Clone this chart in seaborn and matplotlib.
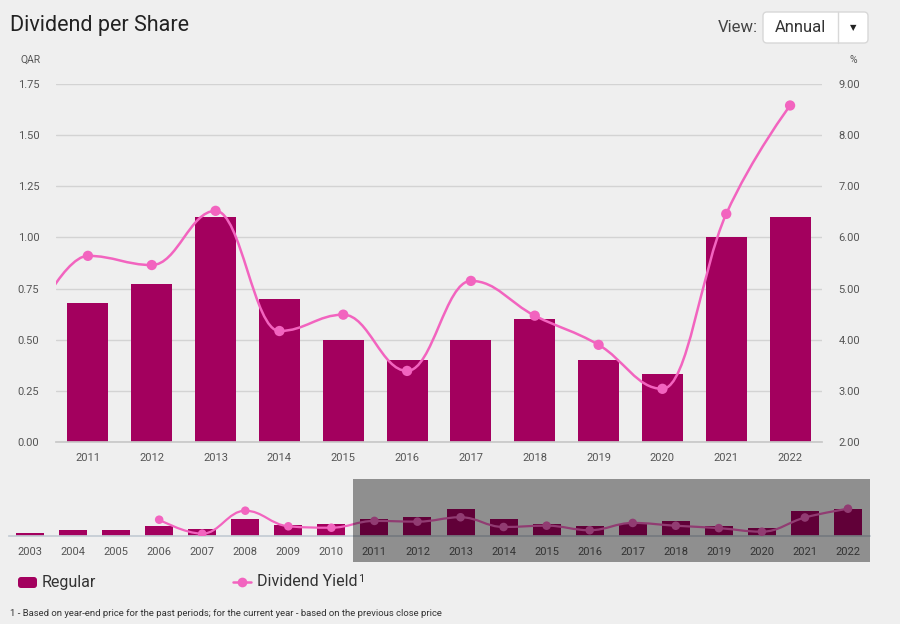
import numpy as np
import pandas as pd
import matplotlib
matplotlib.use("Agg")
import matplotlib.pyplot as plt
import seaborn as sns
from matplotlib.path import Path
from matplotlib.patches import PathPatch, Rectangle, FancyBboxPatch
from matplotlib.lines import Line2D
from matplotlib.transforms import IdentityTransform

# ---------------- data ----------------
years = [2003, 2004, 2005, 2006, 2007, 2008, 2009, 2010, 2011, 2012,
         2013, 2014, 2015, 2016, 2017, 2018, 2019, 2020, 2021, 2022]
dividend = [0.12, 0.25, 0.25, 0.40, 0.30, 0.70, 0.45, 0.50, 0.68, 0.77,
            1.10, 0.70, 0.50, 0.40, 0.50, 0.60, 0.40, 0.33, 1.00, 1.10]
yield_pct = [np.nan, np.nan, np.nan, 5.93, 2.56, 8.10, 4.34, 4.00, 5.64, 5.46,
             6.52, 4.17, 4.49, 3.39, 5.15, 4.47, 3.90, 3.04, 6.46, 8.58]
main_start = 2011
left_ticks = [0.00, 0.25, 0.50, 0.75, 1.00, 1.25, 1.50, 1.75]
right_ticks = [2.00, 3.00, 4.00, 5.00, 6.00, 7.00, 8.00, 9.00]

BG = "#efefef"
BAR = "#a3005e"
PINK = "#f264bf"
GRID = "#d3d3d3"
TXT = "#555555"

sns.set_theme(style="white")
plt.rcParams["font.family"] = ["Roboto", "DejaVu Sans"]

df = pd.DataFrame({"year": [str(y) for y in years], "dividend": dividend, "yield": yield_pct})
df["pos"] = np.arange(len(df))


def spline_path(xs, ys, smoothing=1.5):
    pts = [(float(x), float(y)) for x, y in zip(xs, ys) if not np.isnan(y)]
    n = len(pts)
    left = [None] * n
    right = [None] * n
    for i in range(n):
        px, py = pts[i]
        if 0 < i < n - 1:
            lx, ly = pts[i - 1]
            nx, ny = pts[i + 1]
            d = smoothing + 1
            lcx, lcy = (smoothing * px + lx) / d, (smoothing * py + ly) / d
            rcx, rcy = (smoothing * px + nx) / d, (smoothing * py + ny) / d
            if rcx != lcx:
                corr = (rcy - lcy) * (rcx - px) / (rcx - lcx) + py - rcy
                lcy += corr
                rcy += corr
            if lcy > ly and lcy > py:
                lcy = max(ly, py); rcy = 2 * py - lcy
            elif lcy < ly and lcy < py:
                lcy = min(ly, py); rcy = 2 * py - lcy
            if rcy > ny and rcy > py:
                rcy = max(ny, py); lcy = 2 * py - rcy
            elif rcy < ny and rcy < py:
                rcy = min(ny, py); lcy = 2 * py - rcy
            left[i] = (lcx, lcy)
            right[i] = (rcx, rcy)
        else:
            left[i] = right[i] = (px, py)
    verts = [pts[0]]
    codes = [Path.MOVETO]
    for i in range(1, n):
        verts += [right[i - 1], left[i], pts[i]]
        codes += [Path.CURVE4] * 3
    return Path(verts, codes)


W, H = 900, 624
fig = plt.figure(figsize=(9, 6.24), dpi=100, facecolor=BG)


def fx(px):
    return px / W


def fy(py):
    return 1 - py / H


# ---------------- main chart ----------------
main = df[df["year"].astype(int) >= main_start].copy()
main["mpos"] = np.arange(len(main))
ax = fig.add_axes([fx(56), fy(442), fx(822) - fx(56), fy(84) - fy(442)])
ax.set_facecolor("none")
sns.barplot(data=main, x="year", y="dividend", color=BAR, saturation=1,
            width=0.64, ax=ax, zorder=2, linewidth=0, edgecolor="none")
ax.set_xlim(-0.5, len(main) - 0.5)
ax.set_ylim(0, 1.75)
ax.set_yticks(left_ticks)
ax.set_yticklabels([f"{v:.2f}" for v in left_ticks])
ax.grid(axis="y", color=GRID, linewidth=1, zorder=0)
ax.set_axisbelow(True)
for s in ["top", "left", "right"]:
    ax.spines[s].set_visible(False)
ax.spines["bottom"].set_color("#c8c8c8")
ax.set_xlabel("")
ax.set_ylabel("")
ax.tick_params(axis="y", length=0, pad=12, labelsize=8, labelcolor=TXT)
ax.tick_params(axis="x", which="major", length=0, pad=8, labelsize=8, labelcolor=TXT)
ax.set_xticks(np.arange(-0.5, len(main), 1.0), minor=True)
ax.tick_params(axis="x", which="minor", length=6, color="#c8c8c8", width=1)

ax2 = ax.twinx()
ax2.set_ylim(2, 9)
ax2.set_yticks(right_ticks)
ax2.set_yticklabels([f"{v:.2f}" for v in right_ticks])
ax2.tick_params(axis="y", length=0, pad=12, labelsize=8, labelcolor=TXT)
for s in ax2.spines.values():
    s.set_visible(False)
# line includes the previous year (off the left edge, clipped)
prev = df[df["year"].astype(int) >= main_start - 1]
line_x = np.arange(len(prev)) - 1
ax2.add_patch(PathPatch(spline_path(line_x, prev["yield"].values), facecolor="none",
                        edgecolor=PINK, linewidth=1.8, zorder=3))
sns.scatterplot(x=main["mpos"].values, y=main["yield"].values, ax=ax2, color=PINK,
                s=55, edgecolor="none", zorder=4, legend=False)
ax2.set_xlim(-0.5, len(main) - 0.5)

fig.text(fx(31), fy(60), "QAR", ha="center", va="center", fontsize=7.5, color=TXT)
fig.text(fx(853), fy(60), "%", ha="center", va="center", fontsize=7.5, color=TXT)

# ---------------- navigator ----------------
nav = fig.add_axes([fx(8.5), fy(536), fx(869.5) - fx(8.5), fy(479) - fy(536)])
nav.set_facecolor("none")
sns.barplot(data=df, x="year", y="dividend", color=BAR, saturation=1,
            width=0.65, ax=nav, zorder=2, linewidth=0, edgecolor="none")
nav.set_xlim(-0.5, len(df) - 0.5)
nav.set_ylim(0, 2.28)
nav.set_yticks([])
nav.set_xlabel("")
nav.set_ylabel("")
for s in ["top", "left", "right"]:
    nav.spines[s].set_visible(False)
nav.spines["bottom"].set_color("#c4ccd4")
nav.tick_params(axis="x", length=0, pad=8, labelsize=8, labelcolor=TXT)
nav2 = nav.twinx()
nav2.set_ylim(2.0, 15.74)
nav2.set_yticks([])
for s in nav2.spines.values():
    s.set_visible(False)
nav2.add_patch(PathPatch(spline_path(df["pos"].values, df["yield"].values), facecolor="none",
                         edgecolor=PINK, linewidth=1.6, zorder=3))
sns.scatterplot(x=df["pos"].values, y=df["yield"].values, ax=nav2, color=PINK,
                s=38, edgecolor="none", zorder=4, legend=False)
nav2.set_xlim(-0.5, len(df) - 0.5)

# selected range overlay
fig.add_artist(Rectangle((fx(353), fy(562)), fx(870) - fx(353), fy(479) - fy(562),
                         transform=fig.transFigure, facecolor="black", alpha=0.40,
                         edgecolor="none", zorder=10))

# ---------------- title / view selector ----------------
fig.text(fx(10), fy(25), "Dividend per Share", ha="left", va="center",
         fontsize=15.5, color="#222222")
fig.text(fx(758), fy(28), "View:", ha="right", va="center", fontsize=12, color="#444444")
fig.add_artist(FancyBboxPatch((763, H - 43), 105, 31, boxstyle="round,pad=0,rounding_size=4",
                              transform=IdentityTransform(), facecolor="white",
                              edgecolor="#d8d8d8", linewidth=1, zorder=5))
fig.add_artist(Line2D([838, 838], [H - 43, H - 12], transform=IdentityTransform(),
                      color="#d8d8d8", linewidth=1, zorder=6))
fig.text(fx(800), fy(28), "Annual", ha="center", va="center", fontsize=12, color="#333333", zorder=7)
fig.text(fx(853), fy(28), "▼", ha="center", va="center", fontsize=6, color="#222222",
         family=["DejaVu Sans"], zorder=7)

# ---------------- legend ----------------
fig.add_artist(FancyBboxPatch((18, H - 588), 19, 11, boxstyle="round,pad=0,rounding_size=3",
                              transform=IdentityTransform(), facecolor=BAR, edgecolor="none"))
fig.text(fx(42), fy(582), "Regular", ha="left", va="center", fontsize=11.5, color="#333333")
fig.add_artist(Line2D([233, 251], [H - 582, H - 582], transform=IdentityTransform(),
                      color=PINK, linewidth=1.8))
fig.add_artist(Line2D([242], [H - 582], transform=IdentityTransform(), marker="o",
                      markersize=7, color=PINK, markeredgewidth=0))
t = fig.text(fx(257), fy(582), "Dividend Yield", ha="left", va="center", fontsize=11.5,
             color="#333333")
renderer = fig.canvas.get_renderer()
bb = t.get_window_extent(renderer)
fig.text((bb.x1 + 1) / W, (bb.y1 + 1) / H, "1", ha="left", va="top", fontsize=8,
         color="#333333")

fig.text(fx(10), fy(614), "1 - Based on year-end price for the past periods; for the current year - based on the previous close price",
         ha="left", va="center", fontsize=6.8, color="#333333")

fig.savefig("out.png", dpi=100, facecolor=BG)
